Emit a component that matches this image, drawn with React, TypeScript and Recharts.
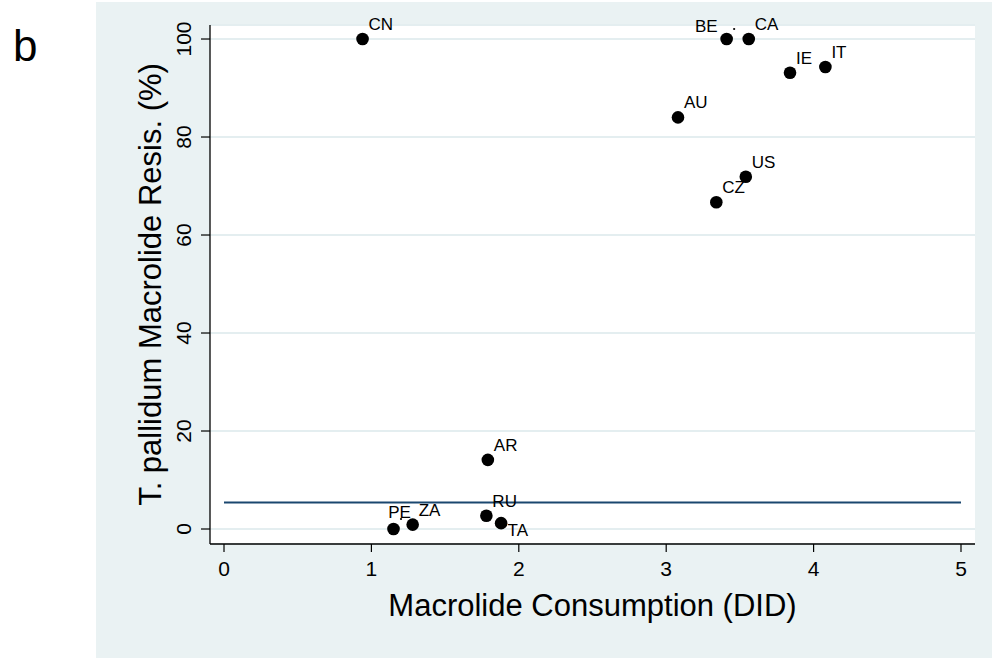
import React from 'react';
import { ScatterChart, Scatter, XAxis, YAxis, CartesianGrid } from 'recharts';

// country codes and their values
const countries = ['CN', 'BE', 'CA', 'IE', 'IT', 'AU', 'US', 'CZ', 'AR', 'RU', 'TA', 'PE', 'ZA'];
const consumption = [0.94, 3.41, 3.56, 3.84, 4.08, 3.08, 3.54, 3.34, 1.79, 1.78, 1.88, 1.15, 1.28];
const resistance = [100, 100, 100, 93.1, 94.3, 84.0, 71.9, 66.7, 14.1, 2.7, 1.2, 0, 0.9];
// stata-style clock position of each marker label
const labelClock = [1, 11, 1, 1, 1, 1, 1, 1, 1, 1, 4, 12, 1];
const strayDots = ['BE', 'PE'];

// flat fitted line
const fitX = [0, 5];
const fitY = [5.4, 5.4];

const xTicks = [0, 1, 2, 3, 4, 5];
const yTicks = [0, 20, 40, 60, 80, 100];
const xDomain = [-0.095, 5.095];
const yDomain = [-3.06, 102.86];

const xTitle = 'Macrolide Consumption (DID)';
const yTitle = 'T. pallidum Macrolide Resis. (%)';
const panelLetter = 'b';

const FONT = '"Liberation Sans", Arial, Helvetica, sans-serif';
const PLOT = { left: 210, top: 25, right: 975, bottom: 544 };

const points = countries.map((c, i) => ({
    name: c,
    x: consumption[i],
    y: resistance[i],
    clock: labelClock[i],
}));
const fitData = fitX.map((x, i) => ({ x, y: fitY[i] }));

const labelOffset = (clock: number) => {
    if (clock === 11) return { dx: -9, dy: -7, anchor: 'end' };
    if (clock === 12) return { dx: 6, dy: -11, anchor: 'middle' };
    if (clock === 4) return { dx: 6.5, dy: 12.5, anchor: 'start' };
    return { dx: 6, dy: -9, anchor: 'start' };
};

const Marker = (props: any) => {
    const { cx, cy, payload } = props;
    if (cx == null || cy == null) return <g />;
    const pos = labelOffset(payload.clock);
    return (
        <g>
            <circle cx={cx} cy={cy} r={6.3} fill="#000" />
            <text x={cx + pos.dx} y={cy + pos.dy} textAnchor={pos.anchor} fontSize={17} fill="#000" fontFamily={FONT}>
                {payload.name}
            </text>
            {/* tiny stray dot next to a couple of the markers */}
            {strayDots.includes(payload.name) && <circle cx={cx + 7.5} cy={cy - 10} r={1.1} fill="#000" />}
        </g>
    );
};

const YTick = (props: any) => {
    const { x, y, payload } = props;
    const bx = x - 8;
    return (
        <text x={bx} y={y} transform={`rotate(-90 ${bx} ${y})`} textAnchor="middle" fontSize={21} fill="#000" fontFamily={FONT}>
            {payload.value}
        </text>
    );
};

const XTitle = () => (
    <text x={(PLOT.left + PLOT.right) / 2} y={616} textAnchor="middle" fontSize={31} fill="#000" fontFamily={FONT}>
        {xTitle}
    </text>
);

const YTitle = () => {
    const cy = (PLOT.top + PLOT.bottom) / 2;
    return (
        <text x={161} y={cy} transform={`rotate(-90 161 ${cy})`} textAnchor="middle" fontSize={31} fill="#000" fontFamily={FONT}>
            {yTitle}
        </text>
    );
};

export default function App() {
    return (
        <div style={{ position: 'absolute', left: 0, top: 0, width: 992, height: 660, background: '#fff' }}>
            {/* graph region background + panel letter */}
            <svg width={992} height={660} style={{ position: 'absolute', left: 0, top: 0 }}>
                <rect x={96} y={2} width={896} height={656} fill="#eaf2f3" />
                <text x={13} y={61} fontSize={44} fill="#000" fontFamily={FONT}>{panelLetter}</text>
            </svg>
            <div style={{ position: 'absolute', left: 0, top: 0 }}>
                <ScatterChart width={992} height={660} margin={{ top: PLOT.top, right: 992 - PLOT.right, bottom: 0, left: 0 }}>
                    <CartesianGrid horizontal vertical={false} stroke="#e4eef0" strokeWidth={2} fill="#fff" fillOpacity={1} />
                    <XAxis
                        type="number"
                        dataKey="x"
                        domain={xDomain}
                        ticks={xTicks}
                        interval={0}
                        height={660 - PLOT.bottom}
                        tickSize={8}
                        tickMargin={9}
                        axisLine={{ stroke: '#000', strokeWidth: 1.3 }}
                        tickLine={{ stroke: '#000', strokeWidth: 1.2 }}
                        tick={{ fontSize: 21, fill: '#000', fontFamily: FONT }}
                        label={<XTitle />}
                    />
                    <YAxis
                        type="number"
                        dataKey="y"
                        domain={yDomain}
                        ticks={yTicks}
                        interval={0}
                        width={PLOT.left}
                        tickSize={9}
                        axisLine={{ stroke: '#000', strokeWidth: 1.3 }}
                        tickLine={{ stroke: '#000', strokeWidth: 1.2 }}
                        tick={<YTick />}
                        label={<YTitle />}
                    />
                    <Scatter
                        data={fitData}
                        line={{ stroke: '#1a476f', strokeWidth: 2 }}
                        shape={() => <g />}
                        isAnimationActive={false}
                    />
                    <Scatter data={points} shape={<Marker />} isAnimationActive={false} />
                </ScatterChart>
            </div>
        </div>
    );
}
